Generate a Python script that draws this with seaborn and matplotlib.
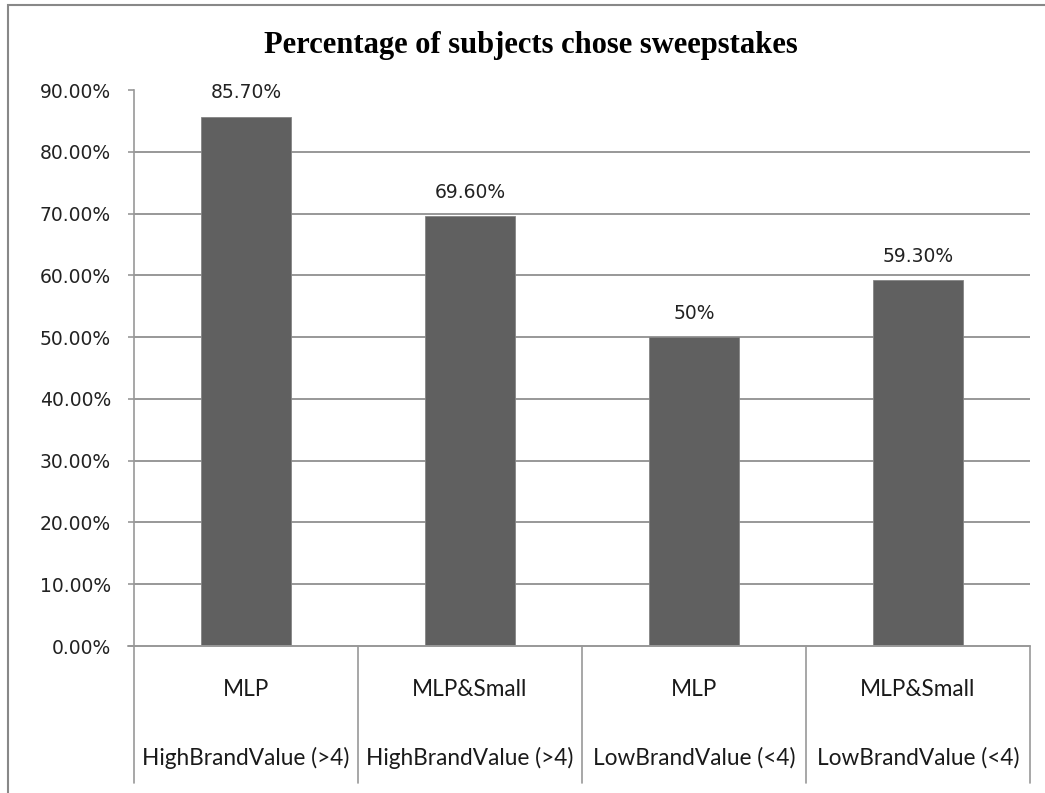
import matplotlib
matplotlib.use("Agg")
import matplotlib.pyplot as plt
import matplotlib.transforms as mtransforms
from matplotlib.patches import Rectangle
import seaborn as sns
import pandas as pd

# ---- data ----
groups = ["MLP", "MLP&Small", "MLP", "MLP&Small"]
brand = ["HighBrandValue (>4)", "HighBrandValue (>4)", "LowBrandValue (<4)", "LowBrandValue (<4)"]
values = [85.7, 69.6, 50.0, 59.3]
value_labels = ["85.70%", "69.60%", "50%", "59.30%"]
yticks = [0, 10, 20, 30, 40, 50, 60, 70, 80, 90]
title = "Percentage of subjects chose sweepstakes"

keys = [f"{g}|{b}" for g, b in zip(groups, brand)]
df = pd.DataFrame({"key": keys, "value": values})

sns.set_style("white")
W, H = 1045, 793
fig = plt.figure(figsize=(W / 100, H / 100), dpi=100)
ax_left, ax_right, ax_top, ax_bot = 134, 1030, 90, 646
ax = fig.add_axes([ax_left / W, 1 - ax_bot / H, (ax_right - ax_left) / W, (ax_bot - ax_top) / H])

bar_color = "#606060"
sns.barplot(data=df, x="key", y="value", order=keys, color=bar_color,
            width=0.4, saturation=1, ax=ax, edgecolor="#858585", linewidth=0.6)

ax.set_ylim(0, 90)
ax.set_xlim(-0.5, len(keys) - 0.5)
ax.set_xlabel("")
ax.set_ylabel("")
ax.set_yticks(yticks)
ax.set_yticklabels([f"{v:.2f}%" for v in yticks], fontsize=13.5, family="DejaVu Sans", color="#222222")
ax.set_xticks([])

grid_c = "#989898"
for v in yticks[1:-1]:
    ax.axhline(v, color=grid_c, lw=1.4, zorder=0)

for s in ["top", "right", "bottom"]:
    ax.spines[s].set_visible(False)
ax.spines["left"].set_color(grid_c)
ax.spines["left"].set_linewidth(1.2)
ax.tick_params(axis="y", length=4.5, width=1.2, color=grid_c, pad=12, left=True)
ax.set_axisbelow(True)

# x axis baseline extended by a tick to the left
trans_ax = ax.transAxes
ax.plot([-6 / (ax_right - ax_left), 1], [0, 0], transform=trans_ax, color=grid_c, lw=1.4, clip_on=False, zorder=3)

# category dividers below axis
blend = mtransforms.blended_transform_factory(ax.transData, ax.transAxes)
below = -(783 - ax_bot) / (ax_bot - ax_top)
for xd in [-0.5 + i for i in range(len(keys) + 1)]:
    ax.plot([xd, xd], [0, below], transform=blend, color=grid_c, lw=1.2, clip_on=False)

# category labels
y1 = -(690 - ax_bot) / (ax_bot - ax_top)
y2 = -(758 - ax_bot) / (ax_bot - ax_top)
for i, (g, b) in enumerate(zip(groups, brand)):
    ax.text(i, y1, g, transform=blend, ha="center", va="center", fontsize=16.3,
            family="Lato", color="#1a1a1a")
    ax.text(i, y2, b, transform=blend, ha="center", va="center", fontsize=16.3,
            family="Lato", color="#1a1a1a")

# value labels
for i, (v, lab) in enumerate(zip(values, value_labels)):
    ax.annotate(lab, (i, v), xytext=(0, 17), textcoords="offset points",
                ha="center", va="center", fontsize=13.5, family="DejaVu Sans", color="#222222")

fig.text(531 / W, 1 - 45 / H, title, ha="center", va="center", fontsize=22,
         family="Liberation Serif", fontweight="bold", color="black")

# chart border
fig.patches.append(Rectangle((8 / W, -0.1), 1.2, 1 - 5 / H + 0.1, transform=fig.transFigure,
                             fill=False, edgecolor="#888888", lw=1.5))

fig.savefig("out.png", dpi=100)
